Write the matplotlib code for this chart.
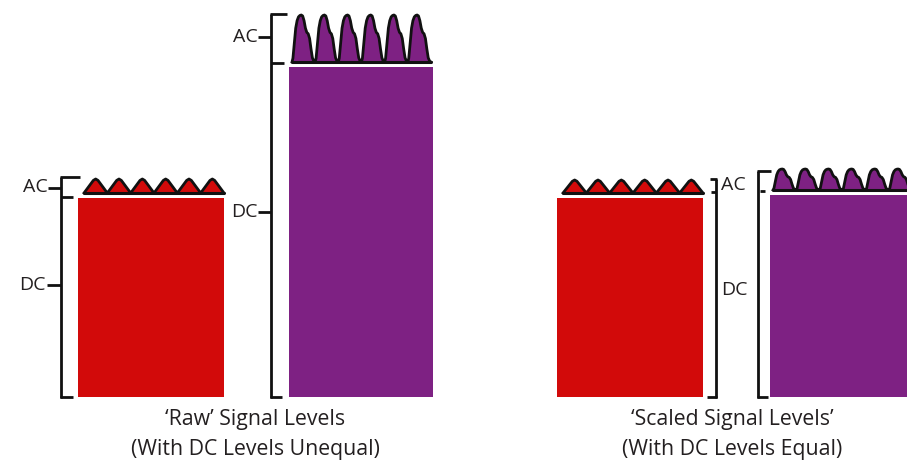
import matplotlib
matplotlib.use("Agg")
import matplotlib.pyplot as plt
import numpy as np

# ---------------- data ----------------
groups = ["Raw", "Scaled"]
title_line1 = ["\u2018Raw\u2019 Signal Levels", "\u2018Scaled Signal Levels\u2019"]
title_line2 = ["(With DC Levels Unequal)", "(With DC Levels Equal)"]
red_dc = [199, 199]        # DC level of red signal (px units)
purple_dc = [330, 202]     # DC level of purple signal
red_ac = [14, 13]          # AC amplitude of red signal
purple_ac = [47, 21]       # AC amplitude of purple signal
n_cycles = 6
# one period of each AC waveform (normalised)
red_pulse_t = [0.0, 0.40, 0.5, 0.60, 1.0]
red_pulse_v = [0.0, 0.90, 1.0, 0.90, 0.0]
purple_pulse_t = [0.0, 0.04, 0.10, 0.16, 0.22, 0.28, 0.34, 0.40, 0.46, 0.52, 0.58, 0.64, 0.70, 0.76, 0.82, 0.88, 0.94, 1.0]
purple_pulse_v = [0.0, 0.08, 0.40, 0.72, 0.88, 0.96, 0.99, 1.0, 0.98, 0.88, 0.72, 0.63, 0.60, 0.50, 0.28, 0.09, 0.02, 0.0]

# ---------------- styling / layout ----------------
RED = "#D20A0A"
PURPLE = "#7E2183"
INK = "#111111"
TXT = "#231F20"
FONT = "Open Sans"
W, H = 907, 472
baseline = 397
red_x = [(78, 146), (557, 146)]      # left, width
pur_x = [(289, 144), (770, 144)]
gap = 5                               # white gap between bar top and AC baseline
title_cx = [255, 732]
LBL = 14
TTL = 15.3
LW = 2.0

fig = plt.figure(figsize=(W / 100, H / 100), dpi=100)
ax = fig.add_axes([0, 0, 1, 1])
ax.set_xlim(0, W)
ax.set_ylim(H, 0)
ax.axis("off")

def wave(left, width, top, amp, pt, pv, color):
    t = np.array(pt); v = np.array(pv)
    per = width / n_cycles
    xs, ys = [], []
    for k in range(n_cycles):
        xs.extend(left + (k + t) * per)
        ys.extend(top - amp * v)
    xs = np.array(xs); ys = np.array(ys)
    ax.fill_between(xs, top, ys, color=color, lw=0, zorder=2)
    ax.plot(xs, ys, color=INK, lw=LW, solid_joinstyle="round", zorder=3)
    ax.plot([xs[0], xs[-1]], [top, top], color=INK, lw=LW + 0.2,
            solid_capstyle="round", zorder=3)

for i in range(2):
    rl, rw = red_x[i]
    pl, pw = pur_x[i]
    ax.bar(rl, red_dc[i], width=rw, bottom=baseline - red_dc[i], align="edge",
           color=RED, lw=0, zorder=1)
    ax.bar(pl, purple_dc[i], width=pw, bottom=baseline - purple_dc[i], align="edge",
           color=PURPLE, lw=0, zorder=1)
    wave(rl + 6, rw - 6, baseline - red_dc[i] - gap, red_ac[i],
         red_pulse_t, red_pulse_v, RED)
    wave(pl + 3, pw - 5, baseline - purple_dc[i] - gap, purple_ac[i],
         purple_pulse_t, purple_pulse_v, PURPLE)
    ax.text(title_cx[i], 419, title_line1[i], ha="center", va="center",
            fontsize=TTL, family=FONT, color=TXT)
    ax.text(title_cx[i], 450, title_line2[i], ha="center", va="center",
            fontsize=TTL, family=FONT, color=TXT)

def seg(x0, y0, x1, y1):
    ax.plot([x0, x1], [y0, y1], color=INK, lw=LW, solid_capstyle="butt", zorder=4)

def label(x, y, s, ha):
    ax.text(x, y, s, ha=ha, va="center", fontsize=LBL, family=FONT, color=TXT)

# --- raw, red bracket ---
r_top = baseline - red_dc[0]
r_ac_top = r_top - gap - red_ac[0] - 2
bx = 61
seg(bx, r_ac_top, bx, baseline + 1)
seg(bx - 1, r_ac_top, bx + 19, r_ac_top)
seg(bx, r_top - 1, bx + 12, r_top - 1)
seg(bx - 1, baseline, bx + 12, baseline)
seg(bx - 13, (r_ac_top + r_top) / 2, bx, (r_ac_top + r_top) / 2)
seg(bx - 14, (r_top + baseline) / 2 - 13, bx, (r_top + baseline) / 2 - 13)
label(bx - 13, (r_ac_top + r_top) / 2, "AC", "right")
label(bx - 15, (r_top + baseline) / 2 - 13, "DC", "right")

# --- raw, purple bracket ---
p_top = baseline - purple_dc[0]
p_ac_top = p_top - gap - purple_ac[0] - 1
bx = 271
seg(bx, p_ac_top, bx, baseline + 1)
seg(bx - 1, p_ac_top, bx + 16, p_ac_top)
seg(bx, p_top - 4, bx + 13, p_top - 4)
seg(bx - 1, baseline, bx + 11, baseline)
seg(bx - 13, (p_ac_top + p_top) / 2 - 4, bx, (p_ac_top + p_top) / 2 - 4)
seg(bx - 13, 212, bx, 212)
label(bx - 13, (p_ac_top + p_top) / 2 - 4, "AC", "right")
label(bx - 13, 212, "DC", "right")

# --- scaled, red closing bracket ---
s_top = baseline - red_dc[1]
s_ac_top = s_top - gap - red_ac[1] - 1
bx = 716
seg(bx, s_ac_top, bx, baseline + 1)
seg(bx - 6, s_ac_top, bx + 1, s_ac_top)
seg(bx - 5, s_top - 6, bx, s_top - 6)
seg(bx - 9, baseline, bx + 1, baseline)
label(bx + 5, s_ac_top + 6, "AC", "left")
label(bx + 5, 290, "DC", "left")

# --- scaled, purple opening bracket ---
q_top = baseline - purple_dc[1]
q_ac_top = q_top - gap - purple_ac[1] + 2
bx = 758
seg(bx, q_ac_top, bx, baseline + 1)
seg(bx - 1, q_ac_top, bx + 13, q_ac_top)
seg(bx + 2, q_top - 4, bx + 7, q_top - 4)
seg(bx - 1, baseline, bx + 10, baseline)

fig.savefig("out.png", dpi=100, facecolor="white")
